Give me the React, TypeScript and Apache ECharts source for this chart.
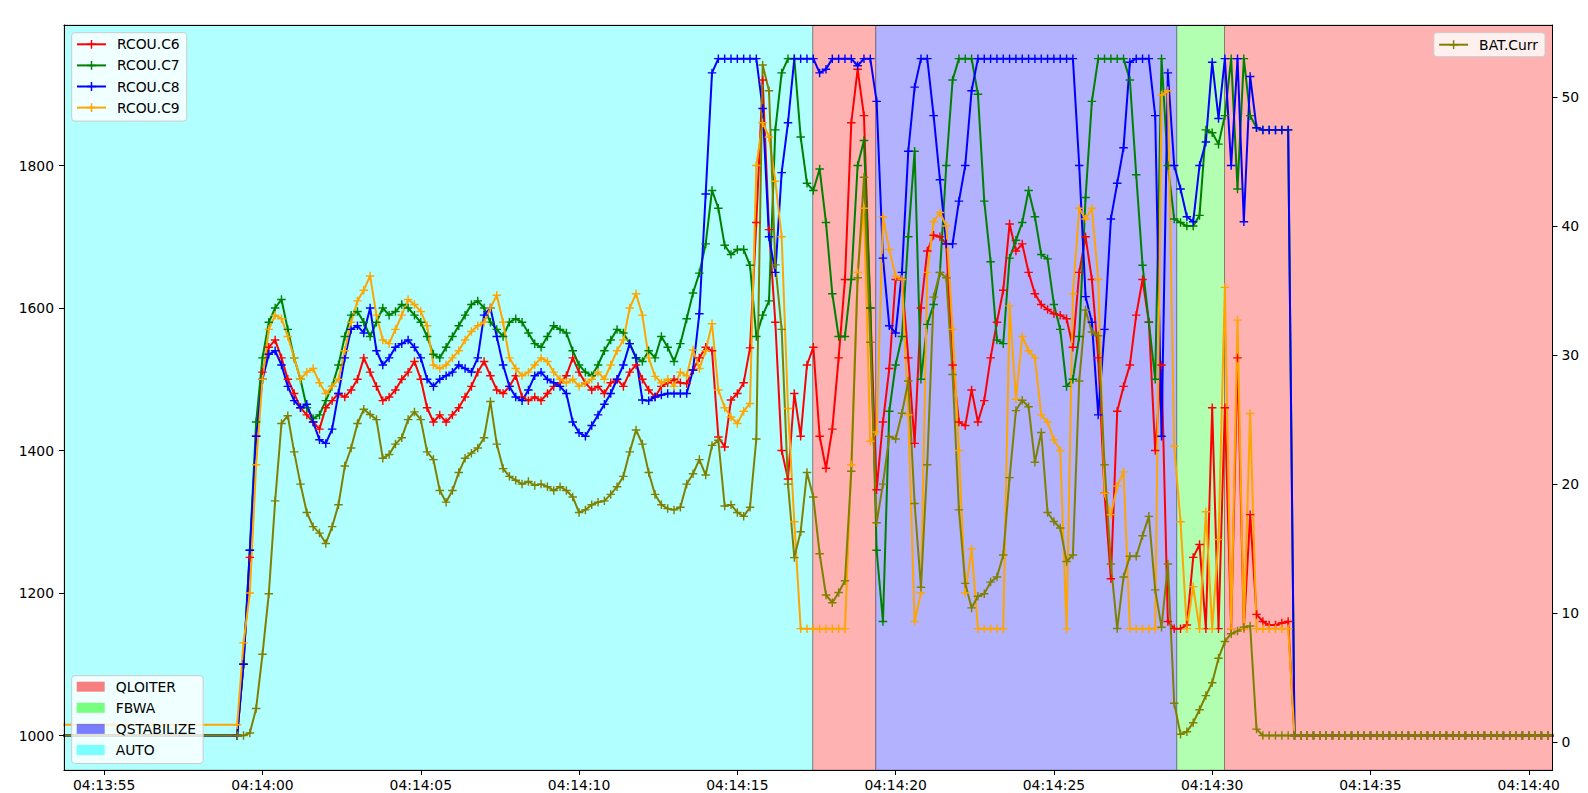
import React, { useEffect, useRef } from "react";
import * as echarts from "echarts";

// ---- axis frame (seconds relative to 04:14:00) ----
const BASE_CLOCK = 4 * 3600 + 14 * 60;
const X_MIN = -6.27;
const X_MAX = 40.75;
const Y_MIN = 951.6;
const Y_MAX = 1997.2;
const Y2_MIN = -2.17;
const Y2_MAX = 55.6;

const xTicks = [-5, 0, 5, 10, 15, 20, 25, 30, 35, 40];
const yTicks = [1000, 1200, 1400, 1600, 1800];
const y2Ticks = [0, 10, 20, 30, 40, 50];

// ---- sampling ----
const idleTime = -10;
const sampleStart = -0.8;
const sampleStep = 0.2;

const idleC6 = 1000;
const idleC7 = 1000;
const idleC8 = 1000;
const idleC9 = 1015;
const idleBat = 0.5;

const rcouC6 = [
  1000, 1100, 1250, 1420, 1510, 1545, 1555, 1530, 1500, 1480,
  1460, 1450, 1440, 1430, 1460, 1470, 1480, 1475, 1485, 1500,
  1530, 1510, 1490, 1470, 1475, 1485, 1500, 1510, 1525, 1500,
  1460, 1440, 1450, 1440, 1450, 1460, 1475, 1490, 1510, 1525,
  1505, 1485, 1480, 1490, 1505, 1475, 1470, 1475, 1470, 1480,
  1490, 1495, 1505, 1530, 1510, 1495, 1485, 1490, 1480, 1495,
  1500, 1490, 1510, 1520, 1500, 1485, 1475, 1490, 1495, 1500,
  1495, 1494, 1513, 1530, 1545, 1540, 1419, 1405, 1471, 1480,
  1495, 1544, 1720, 1920, 1710, 1580, 1400, 1360, 1480, 1420,
  1520, 1545, 1420, 1375, 1430, 1530, 1640, 1860, 1935, 1870,
  1600, 1345, 1440, 1515, 1640, 1640, 1530, 1410, 1600, 1680,
  1702, 1700, 1690, 1520, 1440, 1435, 1485, 1440, 1470, 1530,
  1580, 1625, 1718, 1680, 1690, 1650, 1620, 1605, 1598, 1592,
  1590, 1585, 1545, 1650, 1700, 1640, 1530, 1340, 1220, 1455,
  1490, 1520, 1590, 1640, 1580, 1400, 1520, 1160, 1150, 1150,
  1155, 1250, 1268, 1150, 1460, 1150, 1460, 1150, 1530, 1150,
  1310, 1170, 1160, 1155, 1155, 1158, 1160, 1000,
  1000, 1000, 1000, 1000, 1000, 1000, 1000, 1000, 1000, 1000,
  1000, 1000, 1000, 1000, 1000, 1000, 1000, 1000, 1000, 1000,
  1000, 1000, 1000, 1000, 1000, 1000, 1000, 1000, 1000, 1000,
  1000, 1000, 1000, 1000, 1000, 1000, 1000, 1000, 1000, 1000,
  1000, 1000,
];

const rcouC7 = [
  1000, 1100, 1260, 1440, 1530, 1580, 1600, 1612, 1570, 1530,
  1500, 1460, 1445, 1450, 1470, 1490, 1520, 1560, 1590, 1595,
  1580, 1560, 1580, 1600, 1590, 1595, 1605, 1600, 1590, 1580,
  1560, 1535, 1530, 1545, 1560, 1575, 1590, 1605, 1610, 1600,
  1580, 1570, 1560, 1580, 1585, 1580, 1565, 1550, 1545, 1560,
  1575, 1570, 1565, 1540, 1520, 1510, 1505, 1520, 1540, 1555,
  1570, 1565, 1550, 1530, 1525, 1540, 1530, 1560, 1545, 1525,
  1550, 1585, 1621, 1649, 1690, 1765, 1740, 1688, 1675, 1682,
  1682, 1660, 1560, 1590, 1610, 1850, 1930, 1950, 1950, 1840,
  1775, 1765, 1795, 1720, 1620, 1560, 1560, 1640, 1800, 1835,
  1600, 1260, 1160, 1455, 1520, 1560, 1700, 1820, 1500, 1577,
  1605, 1650, 1800, 1920, 1950, 1950, 1950, 1900, 1750, 1665,
  1555, 1550, 1670, 1695, 1720, 1765, 1728, 1675, 1669, 1605,
  1570, 1490, 1500, 1560, 1755, 1890, 1950, 1950, 1950, 1950,
  1950, 1920, 1787, 1660, 1580, 1500, 1950, 1800, 1725, 1720,
  1715, 1715, 1730, 1850, 1846, 1830, 1870, 1950, 1767, 1950,
  1870, 1853, 1850, 1850, 1850, 1850, 1850, 1000,
  1000, 1000, 1000, 1000, 1000, 1000, 1000, 1000, 1000, 1000,
  1000, 1000, 1000, 1000, 1000, 1000, 1000, 1000, 1000, 1000,
  1000, 1000, 1000, 1000, 1000, 1000, 1000, 1000, 1000, 1000,
  1000, 1000, 1000, 1000, 1000, 1000, 1000, 1000, 1000, 1000,
  1000, 1000,
];

const rcouC8 = [
  1000, 1100, 1260, 1420, 1500, 1535, 1540, 1520, 1490, 1470,
  1460, 1465, 1440, 1415, 1410, 1430, 1480, 1530, 1570, 1575,
  1565, 1600, 1540, 1520, 1530, 1545, 1550, 1555, 1545, 1530,
  1500, 1490, 1500, 1505, 1510, 1520, 1515, 1510, 1530, 1590,
  1600, 1560, 1520, 1490, 1475, 1470, 1485, 1505, 1510, 1500,
  1495, 1490, 1480, 1440, 1425, 1420, 1435, 1450, 1465, 1480,
  1500, 1520, 1550, 1530, 1471, 1470, 1475, 1478, 1480, 1480,
  1480, 1480, 1513, 1592, 1760, 1930, 1950, 1950, 1950, 1950,
  1950, 1950, 1950, 1880, 1700, 1650, 1790, 1860, 1950, 1950,
  1950, 1950, 1930, 1935, 1950, 1950, 1950, 1950, 1940, 1950,
  1950, 1890, 1670, 1575, 1565, 1650, 1820, 1910, 1950, 1950,
  1870, 1780, 1690, 1690, 1750, 1800, 1905, 1950, 1950, 1950,
  1950, 1950, 1950, 1950, 1950, 1950, 1950, 1950, 1950, 1950,
  1950, 1950, 1950, 1800, 1616, 1580, 1450, 1570, 1725, 1775,
  1825, 1945, 1950, 1950, 1950, 1870, 1420, 1930, 1800, 1767,
  1728, 1721, 1800, 1833, 1945, 1866, 1950, 1800, 1950, 1721,
  1925, 1853, 1850, 1850, 1850, 1850, 1850, 1000,
  1000, 1000, 1000, 1000, 1000, 1000, 1000, 1000, 1000, 1000,
  1000, 1000, 1000, 1000, 1000, 1000, 1000, 1000, 1000, 1000,
  1000, 1000, 1000, 1000, 1000, 1000, 1000, 1000, 1000, 1000,
  1000, 1000, 1000, 1000, 1000, 1000, 1000, 1000, 1000, 1000,
  1000, 1000,
];

const rcouC9 = [
  1015, 1130, 1200, 1380, 1500, 1570, 1590, 1585, 1560, 1530,
  1500, 1510, 1515, 1495, 1480, 1490, 1500, 1540, 1580, 1610,
  1625, 1645, 1590, 1555, 1550, 1570, 1590, 1612, 1605, 1595,
  1575, 1520, 1515, 1520, 1530, 1540, 1555, 1567, 1575, 1580,
  1600, 1618, 1580, 1530, 1515, 1505, 1510, 1520, 1530, 1525,
  1510, 1500, 1495, 1500, 1490, 1495, 1500, 1510, 1500, 1520,
  1540, 1555, 1600, 1620, 1590, 1530, 1504, 1495, 1500, 1490,
  1510, 1505, 1541, 1515, 1540, 1578, 1485, 1460, 1447, 1438,
  1455, 1466, 1800, 1860, 1840, 1778, 1700, 1459, 1300, 1150,
  1150, 1150, 1150, 1150, 1150, 1150, 1150, 1380, 1650, 1740,
  1413, 1426, 1728, 1682, 1645, 1640, 1450, 1160, 1200, 1650,
  1721, 1734, 1715, 1570, 1400, 1200, 1262, 1150, 1150, 1150,
  1150, 1150, 1603, 1472, 1560, 1540, 1530, 1450, 1440, 1415,
  1400, 1150, 1620, 1740, 1725, 1740, 1640, 1340, 1310, 1350,
  1370, 1150, 1150, 1150, 1150, 1150, 1899, 1905, 1406, 1300,
  1150, 1209, 1150, 1314, 1150, 1275, 1629, 1150, 1583, 1150,
  1452, 1150, 1150, 1150, 1150, 1150, 1150, 1000,
  1000, 1000, 1000, 1000, 1000, 1000, 1000, 1000, 1000, 1000,
  1000, 1000, 1000, 1000, 1000, 1000, 1000, 1000, 1000, 1000,
  1000, 1000, 1000, 1000, 1000, 1000, 1000, 1000, 1000, 1000,
  1000, 1000, 1000, 1000, 1000, 1000, 1000, 1000, 1000, 1000,
  1000, 1000,
];

const batCurr = [
  0.5, 0.5, 0.7, 2.6, 6.8, 11.5, 18.7, 24.7, 25.3, 22.5,
  20.0, 17.8, 16.7, 16.2, 15.4, 16.7, 18.4, 21.4, 22.8, 24.7,
  25.8, 25.4, 25.0, 22.0, 22.3, 23.1, 23.6, 25.0, 25.6, 25.0,
  22.5, 21.9, 19.5, 18.6, 19.5, 20.9, 22.0, 22.4, 22.8, 23.6,
  26.4, 23.1, 21.2, 20.6, 20.3, 20.0, 20.2, 19.9, 20.0, 19.8,
  19.5, 19.8, 19.5, 19.0, 17.8, 18.0, 18.4, 18.6, 18.7, 19.2,
  19.8, 20.6, 22.5, 24.2, 23.1, 20.9, 19.2, 18.4, 18.1, 18.0,
  18.2, 20.0, 20.8, 21.9, 20.7, 23.0, 23.4, 18.3, 18.4, 17.8,
  17.5, 18.2, 23.5, 52.5, 50.5, 37.0, 32.0, 20.0, 14.3, 16.3,
  20.9, 19.0, 14.6, 11.4, 10.8, 11.6, 12.5, 21.0, 36.0, 43.8,
  31.0, 17.0, 20.0, 23.7, 23.5, 25.5, 28.0, 18.5, 12.0, 21.5,
  34.5, 36.4, 36.0, 28.5, 18.0, 12.3, 10.4, 11.3, 11.5, 12.4,
  12.8, 14.5, 20.5, 25.7, 26.5, 26.0, 21.7, 24.0, 17.8, 17.1,
  16.6, 14.0, 14.5, 28.0, 33.5, 31.8, 31.5, 21.5, 13.8, 8.8,
  12.8, 14.4, 14.4, 16.0, 17.5, 11.8, 8.9, 13.8, 3.0, 0.6,
  0.8, 1.5, 2.5, 3.6, 4.6, 6.5, 7.8, 8.4, 8.6, 8.9,
  9.0, 1.0, 0.5, 0.5, 0.5, 0.5, 0.5, 0.5,
  0.5, 0.5, 0.5, 0.5, 0.5, 0.5, 0.5, 0.5, 0.5, 0.5,
  0.5, 0.5, 0.5, 0.5, 0.5, 0.5, 0.5, 0.5, 0.5, 0.5,
  0.5, 0.5, 0.5, 0.5, 0.5, 0.5, 0.5, 0.5, 0.5, 0.5,
  0.5, 0.5, 0.5, 0.5, 0.5, 0.5, 0.5, 0.5, 0.5, 0.5,
  0.5, 0.5,
];

// ---- flight modes ----
const modeSequence = ["AUTO", "QLOITER", "QSTABILIZE", "FBWA", "QLOITER"];
const modeChanges = [17.38, 19.37, 28.88, 30.39];
const modeLegendOrder = ["QLOITER", "FBWA", "QSTABILIZE", "AUTO"];
const modeRGB: Record<string, string> = {
  QLOITER: "255,0,0",
  FBWA: "0,255,0",
  QSTABILIZE: "0,0,255",
  AUTO: "0,255,255",
};

const FONT = "'DejaVu Sans', sans-serif";
const FS = 13.9;
const PLUS = "path://M5,0H7V5H12V7H7V12H5V7H0V5H5Z";

function clock(v: number): string {
  const s = Math.round(BASE_CLOCK + v);
  const h = Math.floor(s / 3600);
  const m = Math.floor((s % 3600) / 60);
  const sec = s % 60;
  const p = (n: number) => String(n).padStart(2, "0");
  return `${p(h)}:${p(m)}:${p(sec)}`;
}

function toPoints(idle: number, values: number[]) {
  const pts: number[][] = [[idleTime, idle]];
  values.forEach((v, i) => {
    pts.push([+(sampleStart + i * sampleStep).toFixed(2), v]);
  });
  return pts;
}

function lineSeries(name: string, color: string, idle: number, values: number[], yAxisIndex: number) {
  return {
    type: "line",
    name,
    yAxisIndex,
    data: toPoints(idle, values),
    color,
    symbol: PLUS,
    symbolSize: 8.5,
    showSymbol: true,
    clip: true,
    lineStyle: { width: 2, color },
    itemStyle: { color, borderWidth: 0 },
    emphasis: { disabled: true },
    silent: true,
    z: 3,
  };
}

function modeSeries() {
  return modeLegendOrder.map((mode) => {
    const spans: any[] = [];
    modeSequence.forEach((m, i) => {
      if (m !== mode) return;
      const start = i === 0 ? X_MIN : modeChanges[i - 1];
      const end = i === modeSequence.length - 1 ? X_MAX : modeChanges[i];
      spans.push([{ xAxis: start }, { xAxis: end }]);
    });
    const rgb = modeRGB[mode];
    return {
      type: "line",
      name: mode,
      data: [],
      color: `rgba(${rgb},0.5)`,
      itemStyle: { color: `rgba(${rgb},0.5)` },
      silent: true,
      markArea: {
        silent: true,
        z: 1,
        itemStyle: {
          color: `rgba(${rgb},0.3)`,
          borderColor: "rgba(0,0,0,0.25)",
          borderWidth: 1,
        },
        label: { show: false },
        emphasis: { disabled: true },
        data: spans,
      },
    };
  });
}

const textBase = { fontFamily: FONT, fontSize: FS, color: "#000" };

function buildOption() {
  const legendCommon = {
    orient: "vertical",
    itemWidth: 29,
    itemHeight: 11,
    itemGap: 7.1,
    backgroundColor: "rgba(255,255,255,0.8)",
    borderColor: "#cccccc",
    borderWidth: 1,
    borderRadius: 3,
    selectedMode: false,
    textStyle: { ...textBase, padding: [0, 0, 0, 6] },
  };
  return {
    animation: false,
    backgroundColor: "#ffffff",
    grid: {
      left: 64,
      right: 35.5,
      top: 25,
      bottom: 23,
      containLabel: false,
      outerBoundsMode: "none",
    },
    legend: [
      {
        ...legendCommon,
        left: 71.7,
        top: 32.7,
        padding: [4.6, 7, 6.5, 4.3],
        data: ["RCOU.C6", "RCOU.C7", "RCOU.C8", "RCOU.C9"],
      },
      {
        ...legendCommon,
        right: 43,
        top: 32.7,
        padding: [5, 7, 5, 4.3],
        data: ["BAT.Curr"],
      },
      {
        ...legendCommon,
        left: 71.7,
        top: 675.7,
        itemWidth: 28,
        itemHeight: 10,
        itemGap: 7.1,
        padding: [4, 7, 6.5, 5],
        data: modeLegendOrder.map((m) => ({ name: m, icon: "rect" })),
      },
    ],
    xAxis: [
      {
        type: "value",
        min: X_MIN,
        max: X_MAX,
        position: "bottom",
        z: 10,
        axisLine: { show: true, onZero: false, lineStyle: { color: "#000", width: 1 } },
        axisTick: { show: true, customValues: xTicks, length: 5, lineStyle: { color: "#000", width: 1 } },
        axisLabel: { ...textBase, customValues: xTicks, margin: 8, formatter: (v: number) => clock(v) },
        splitLine: { show: false },
      },
      {
        type: "value",
        min: X_MIN,
        max: X_MAX,
        position: "top",
        z: 10,
        axisLine: { show: true, onZero: false, lineStyle: { color: "#000", width: 1 } },
        axisTick: { show: false },
        axisLabel: { show: false },
        splitLine: { show: false },
      },
    ],
    yAxis: [
      {
        type: "value",
        min: Y_MIN,
        max: Y_MAX,
        position: "left",
        z: 10,
        axisLine: { show: true, onZero: false, lineStyle: { color: "#000", width: 1 } },
        axisTick: { show: true, customValues: yTicks, length: 5, lineStyle: { color: "#000", width: 1 } },
        axisLabel: { ...textBase, customValues: yTicks, margin: 10, formatter: (v: number) => String(v) },
        splitLine: { show: false },
      },
      {
        type: "value",
        min: Y2_MIN,
        max: Y2_MAX,
        position: "right",
        z: 10,
        axisLine: { show: true, onZero: false, lineStyle: { color: "#000", width: 1 } },
        axisTick: { show: true, customValues: y2Ticks, length: 5, lineStyle: { color: "#000", width: 1 } },
        axisLabel: { ...textBase, customValues: y2Ticks, margin: 9, formatter: (v: number) => String(v) },
        splitLine: { show: false },
      },
    ],
    series: [
      ...modeSeries(),
      lineSeries("RCOU.C6", "#ff0000", idleC6, rcouC6, 0),
      lineSeries("RCOU.C7", "#008000", idleC7, rcouC7, 0),
      lineSeries("RCOU.C8", "#0000ff", idleC8, rcouC8, 0),
      lineSeries("RCOU.C9", "#ffa500", idleC9, rcouC9, 0),
      lineSeries("BAT.Curr", "#808000", idleBat, batCurr, 1),
    ],
  };
}

export default function App() {
  const ref = useRef<HTMLDivElement>(null);
  useEffect(() => {
    if (!ref.current) return;
    const chart = echarts.init(ref.current, null, { renderer: "svg" });
    chart.setOption(buildOption() as any);
    return () => {
      chart.dispose();
    };
  }, []);
  return (
    <div
      ref={ref}
      style={{ position: "fixed", left: 0, top: 0, width: 1588, height: 793, background: "#fff" }}
    />
  );
}
